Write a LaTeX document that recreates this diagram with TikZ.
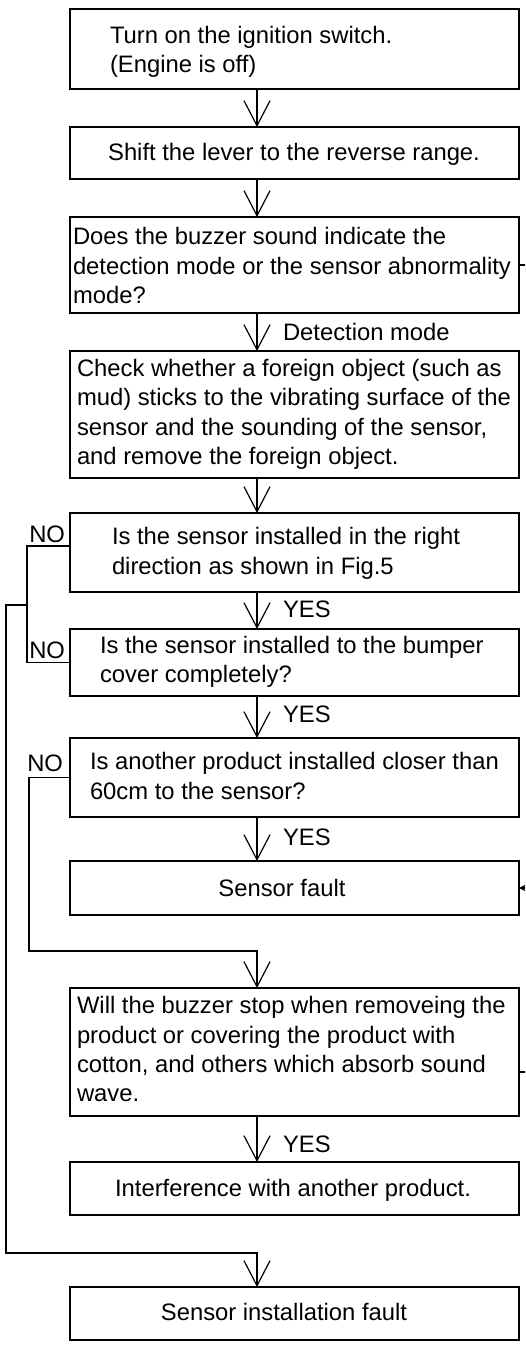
\documentclass[tikz,border=0pt]{standalone}
\usepackage{fontspec}
\setmainfont{Liberation Sans}
\usetikzlibrary{arrows.meta}
\begin{document}
\begin{tikzpicture}[x=1pt,y=-1pt,
  box/.style={draw, line width=1.2pt, minimum width=449pt, inner sep=0pt, outer sep=0pt},
  txt/.style={inner sep=0pt, outer sep=0pt, align=left, anchor=north west, font=\fontsize{23.8}{29.3}\selectfont},
  lbl/.style={inner sep=0pt, outer sep=0pt, font=\fontsize{23.8}{29.3}\selectfont},
  conn/.style={line width=1.2pt},
  arr/.style={line width=1.2pt, -{Straight Barb[length=25pt,width=26pt]}}]
\useasboundingbox (0,0) rectangle (525,1347);
\clip (0,0) rectangle (525,1347);
% boxes
\node[box, minimum height=80pt]  (b1)  at (294.5,49)    {};
\node[box, minimum height=52pt]  (b2)  at (294.5,153)   {};
\node[box, minimum height=96pt]  (b3)  at (294.5,265)   {};
\node[box, minimum height=127pt] (b4)  at (294.5,414.5) {};
\node[box, minimum height=79pt]  (b5)  at (294.5,552.5) {};
\node[box, minimum height=67pt]  (b6)  at (294.5,662.5) {};
\node[box, minimum height=79pt]  (b7)  at (294.5,777.5) {};
\node[box, minimum height=54pt]  (b8)  at (294.5,888)   {};
\node[box, minimum height=128pt] (b9)  at (294.5,1052)  {};
\node[box, minimum height=53pt]  (b10) at (294.5,1188.5){};
\node[box, minimum height=53pt]  (b11) at (294.5,1313.5){};
% texts
\node[txt] (t1) at (110,22.85) {\strut Turn on the ignition switch.\\(Engine is off)};
\node[lbl, anchor=base] (t2) at (294,160) {Shift the lever to the reverse range.};
\node[txt] (t3) at (73,224.35) {\strut Does the buzzer sound indicate the\\detection mode or the sensor abnormality\\mode?};
\node[txt] (t4) at (77,356.05) {\strut Check whether a foreign object (such as\\mud) sticks to the vibrating surface of the\\sensor and the sounding of the sensor,\\and remove the foreign object.};
\node[txt] (t5) at (112,524.35) {\strut Is the sensor installed in the right\\direction as shown in Fig.5};
\node[txt] (t6) at (100,632.65) {\strut Is the sensor installed to the bumper\\cover completely?};
\node[txt] (t7) at (90,749.35) {\strut Is another product installed closer than\\60cm to the sensor?};
\node[lbl, anchor=base] (t8) at (282,896.7) {Sensor fault};
\node[txt] (t9) at (77,993.35) {\strut Will the buzzer stop when removeing the\\product or covering the product with\\cotton, and others which absorb sound\\wave.};
\node[lbl, anchor=base] (t10) at (293,1196.7) {Interference with another product.};
\node[lbl, anchor=base] (t11) at (284,1320) {Sensor installation fault};
% main connectors
\coordinate (ax) at (257,0);
\draw[arr] (b1.south -| ax) -- (b2.north -| ax);
\draw[arr] (b2.south -| ax) -- (b3.north -| ax);
\draw[arr] (b3.south -| ax) -- (b4.north -| ax);
\draw[arr] (b4.south -| ax) -- (b5.north -| ax);
\draw[arr] (b5.south -| ax) -- (b6.north -| ax);
\draw[arr] (b6.south -| ax) -- (b7.north -| ax);
\draw[arr] (b7.south -| ax) -- (b8.north -| ax);
\draw[arr] (b9.south -| ax) -- (b10.north -| ax);
% labels
\node[lbl, anchor=base west] (l1) at (283,340) {Detection mode};
\node[lbl, anchor=base west] (l2) at (283,617) {YES};
\node[lbl, anchor=base west] (l3) at (283,722) {YES};
\node[lbl, anchor=base west] (l4) at (283,845) {YES};
\node[lbl, anchor=base west] (l5) at (283,1152) {YES};
\node[lbl, anchor=base east] (n1l) at (65,542.7) {NO};
\node[lbl, anchor=base east] (n2l) at (65,658) {NO};
\node[lbl, anchor=base east] (n3l) at (63,771.7) {NO};
% NO branches
\coordinate (n1) at (27,546);
\draw[conn] ([yshift=6.5pt]b5.west) -- (n1) |- (b6.west);
\coordinate (j1) at (27,605);
\coordinate (j2) at (6,1253);
\draw[arr] (j1) -| (j2) -| (b11.north -| ax);
\coordinate (n3) at (29,951);
\draw[arr] (b7.west) -| (n3) -| (b9.north -| ax);
% stubs to the right edge
\coordinate (r1) at (530,265);
\draw[conn] (b3.east) -- (r1);
\coordinate (r2) at (545,888);
\draw[arr] (r2) -- (b8.east);
\coordinate (r3) at (530,1072);
\draw[conn] ([yshift=-20pt]b9.east) -- (r3);
\end{tikzpicture}
\end{document}
